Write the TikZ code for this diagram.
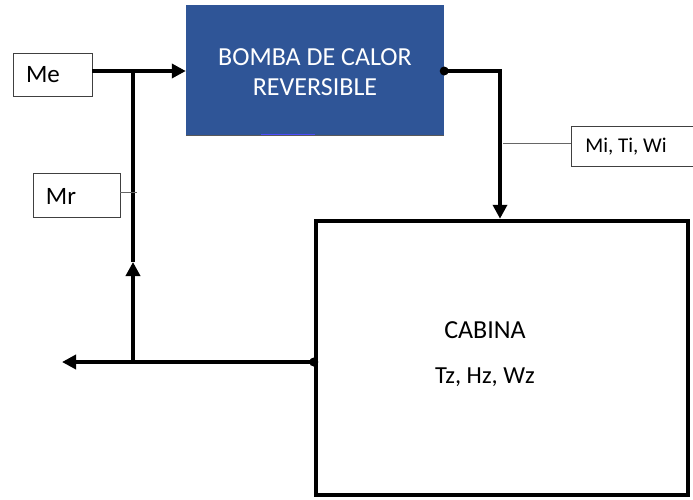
\documentclass[tikz,border=0pt]{standalone}
\usepackage{fontspec}
\setmainfont{Carlito}
\usetikzlibrary{arrows.meta}
\definecolor{bombablue}{HTML}{2F5597}
\begin{document}
\begin{tikzpicture}[x=1pt,y=-1pt,
  lbox/.style={draw=black!75, line width=0.8pt, fill=white, inner sep=0pt},
  ltext/.style={inner sep=0pt, font=\fontsize{25}{28}\selectfont},
  flow/.style={line width=4.8pt},
  tip/.style={-{Triangle[length=14pt,width=14pt]}},
  thinl/.style={draw=black!60, line width=0.8pt}]
\useasboundingbox (0,0) rectangle (693,499);
% boxes
\node[lbox, minimum width=79pt, minimum height=43pt] (me) at (52.5,74.5) {};
\node[ltext] (met) at (43,74.5) {Me};
\node[lbox, minimum width=87pt, minimum height=44pt] (mr) at (76.5,195) {};
\node[ltext] (mrt) at (61,196) {Mr};
\node[lbox, minimum width=126pt, minimum height=40pt, anchor=west] (mi) at (571,146) {};
\node[ltext, font=\fontsize{21}{24}\selectfont] (mit) at (626,147) {Mi, Ti, Wi};
\node[fill=bombablue, minimum width=258pt, minimum height=130pt, inner sep=0pt] (bomba) at (315,70) {};
\node[ltext, text=white, font=\fontsize{26}{30}\selectfont] (b1) at (315,57) {BOMBA DE CALOR};
\node[ltext, text=white, font=\fontsize{26}{30}\selectfont] (b2) at (315,87) {REVERSIBLE};
\draw[black!65, line width=1pt] (bomba.south west) -- (bomba.south east);
\draw[blue!70, line width=1pt] (261,134.5) -- (315,134.5);
\node[draw=black, line width=4.5pt, minimum width=372pt, minimum height=274pt, inner sep=0pt] (cabina) at (502,358) {};
\node[ltext, font=\fontsize{26}{30}\selectfont] (cabt) at (485,330) {CABINA};
\node[ltext, font=\fontsize{24.5}{28}\selectfont] (cabv) at (485,377) {Tz, Hz, Wz};
% junctions
\coordinate (j1) at (133,71);
\coordinate (j2) at (133,362);
\coordinate (jm) at (133,262);
\coordinate (out) at (62,362);
\coordinate (r1) at (500,71);
\coordinate (mrj) at (137,192);
\coordinate (mij) at (503,143);
% connectors
\draw[line width=3.5pt] (me.east |- j1) -- (j1);
\draw[flow, tip] (j1) -- (bomba.west |- j1);
\draw[flow, tip] (j2) -- (jm);
\draw[flow] (jm) -- (j1);
\draw[flow, tip] (cabina.west |- j2) -- (j2) -- (out);
\draw[flow, tip] (bomba.east |- r1) -- (r1) -- (r1 |- cabina.north);
\fill (bomba.east |- r1) circle (4.5pt);
\fill (cabina.west |- j2) circle (4.5pt);
\draw[thinl] (mr.east |- mrj) -- (mrj);
\draw[thinl] (mij) -- (mi.west |- mij);
\end{tikzpicture}
\end{document}
